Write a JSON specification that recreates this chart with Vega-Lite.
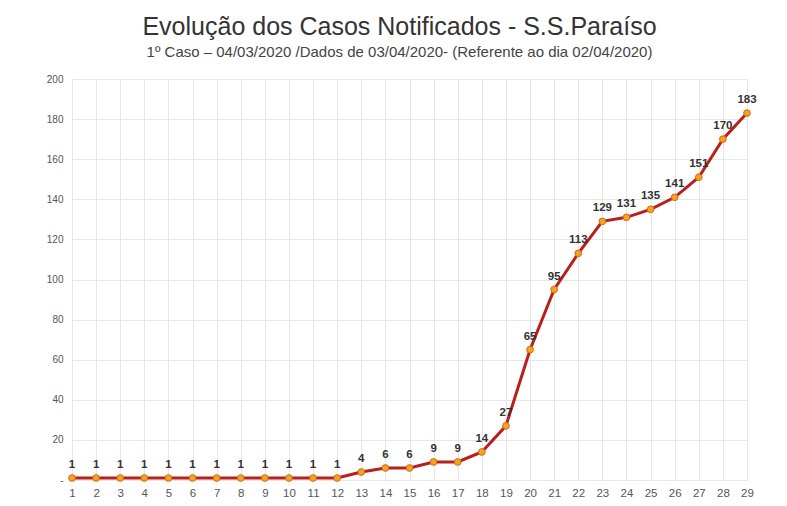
{
  "$schema": "https://vega.github.io/schema/vega-lite/v6.json",
  "autosize": "none",
  "width": 675,
  "height": 401,
  "padding": {"left": 72, "top": 79, "right": 40, "bottom": 26},
  "background": "white",
  "title": {
    "text": "Evolução dos Casos Notificados - S.S.Paraíso",
    "subtitle": "1º Caso – 04/03/2020 /Dados de 03/04/2020- (Referente ao dia 02/04/2020)",
    "anchor": "middle",
    "dx": -10,
    "offset": 14,
    "font": "Liberation Sans",
    "fontSize": 25,
    "fontWeight": "normal",
    "color": "#333333",
    "subtitleFont": "Liberation Sans",
    "subtitleFontSize": 15,
    "subtitleColor": "#444444",
    "subtitlePadding": 5
  },
  "data": {
    "values": [
      {"dia": 1, "casos": 1}, {"dia": 2, "casos": 1}, {"dia": 3, "casos": 1},
      {"dia": 4, "casos": 1}, {"dia": 5, "casos": 1}, {"dia": 6, "casos": 1},
      {"dia": 7, "casos": 1}, {"dia": 8, "casos": 1}, {"dia": 9, "casos": 1},
      {"dia": 10, "casos": 1}, {"dia": 11, "casos": 1}, {"dia": 12, "casos": 1},
      {"dia": 13, "casos": 4}, {"dia": 14, "casos": 6}, {"dia": 15, "casos": 6},
      {"dia": 16, "casos": 9}, {"dia": 17, "casos": 9}, {"dia": 18, "casos": 14},
      {"dia": 19, "casos": 27}, {"dia": 20, "casos": 65}, {"dia": 21, "casos": 95},
      {"dia": 22, "casos": 113}, {"dia": 23, "casos": 129}, {"dia": 24, "casos": 131},
      {"dia": 25, "casos": 135}, {"dia": 26, "casos": 141}, {"dia": 27, "casos": 151},
      {"dia": 28, "casos": 170}, {"dia": 29, "casos": 183}
    ]
  },
  "encoding": {
    "x": {
      "field": "dia", "type": "quantitative",
      "scale": {"domain": [1, 29], "nice": false, "zero": false},
      "axis": {
        "title": null, "values": [1,2,3,4,5,6,7,8,9,10,11,12,13,14,15,16,17,18,19,20,21,22,23,24,25,26,27,28,29],
        "domain": false, "ticks": false, "labelPadding": 7,
        "labelFont": "Liberation Sans", "labelFontSize": 11.5, "labelColor": "#555555",
        "gridColor": "#e6e6e6", "labelFlush": false
      }
    },
    "y": {
      "field": "casos", "type": "quantitative",
      "scale": {"domain": [0, 200], "nice": false},
      "axis": {
        "title": null, "values": [0,20,40,60,80,100,120,140,160,180,200],
        "domain": false, "ticks": false, "labelPadding": 9,
        "labelExpr": "datum.value == 0 ? '-' : datum.label",
        "labelFont": "Liberation Sans", "labelFontSize": 10, "labelColor": "#555555",
        "gridColor": "#e6e6e6"
      }
    }
  },
  "layer": [
    {"mark": {"type": "line", "color": "#b8201c", "strokeWidth": 3}},
    {"mark": {"type": "point", "filled": true, "size": 45, "color": "#f5a31f", "stroke": "#d2691e", "strokeWidth": 1, "opacity": 1}},
    {
      "mark": {"type": "text", "dy": -13, "font": "Liberation Sans", "fontSize": 11.5, "fontWeight": "bold", "color": "#333333"},
      "encoding": {"text": {"field": "casos", "type": "quantitative"}}
    }
  ],
  "config": {"view": {"stroke": null}}
}
